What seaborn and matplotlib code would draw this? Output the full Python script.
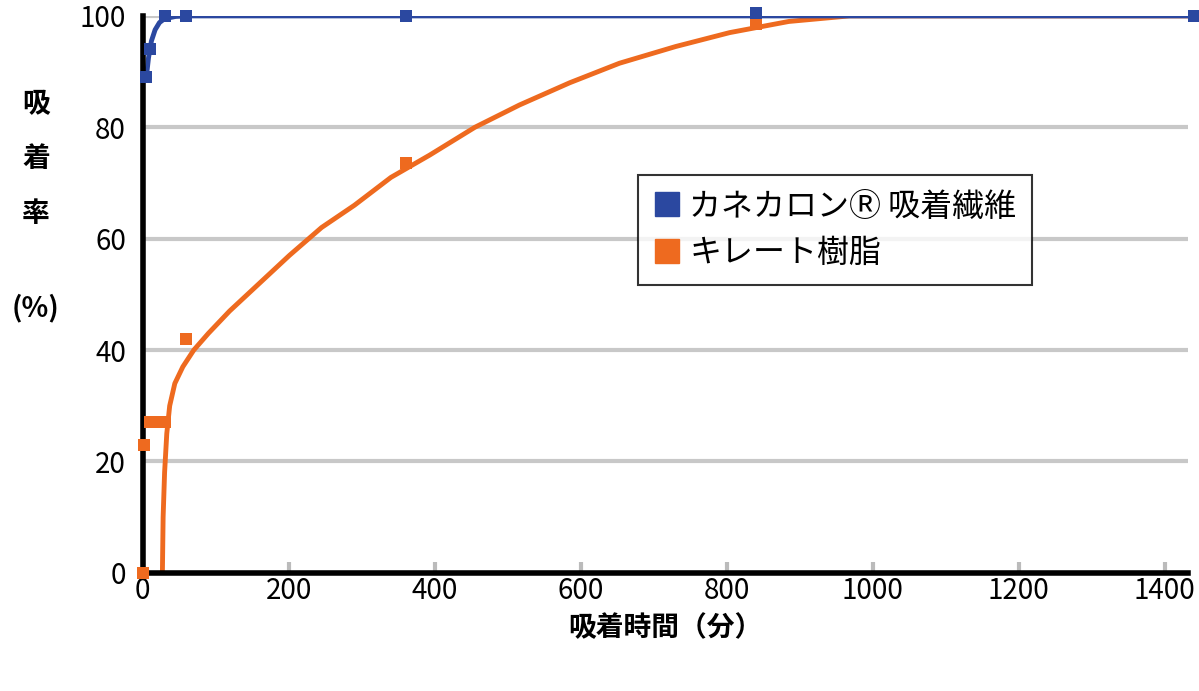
import matplotlib
matplotlib.use("Agg")
import matplotlib.pyplot as plt
import seaborn as sns
from matplotlib.lines import Line2D

fiber_t = [5, 10, 30, 60, 360, 840, 1440]
fiber_v = [89, 94, 100, 100, 100, 100.5, 100]
resin_t = [0, 2, 10, 20, 30, 60, 360, 840, 1440]
resin_v = [0, 23, 27, 27, 27, 42, 73.5, 98.5, 100]
# trend curves
curve_t = [27, 28, 30, 33, 37, 44, 55, 70, 90, 119, 160, 201, 245, 290, 340, 393, 455, 516, 585, 653, 730, 804, 885, 968, 1440]
curve_v = [0, 10, 18, 25, 30, 34, 37, 40, 43, 47, 52, 57, 62, 66, 71, 75, 80, 84, 88, 91.5, 94.5, 97, 99, 100, 100]
fiber_curve_t = [5, 8, 12, 17, 23, 30, 45, 60, 360, 840, 1440]
fiber_curve_v = [89, 92.5, 95.5, 97.5, 98.8, 99.5, 99.9, 100, 100, 100, 100]

BLUE = "#2b48a0"
ORANGE = "#ee6a1f"
plt.rcParams["font.family"] = "Noto Sans CJK JP"

fig = plt.figure(figsize=(11.99, 6.91), dpi=100)
ax = fig.add_axes([0.119, 0.171, 0.872, 0.806])
sns.lineplot(x=curve_t, y=curve_v, ax=ax, color=ORANGE, linewidth=3.5, sort=False, estimator=None)
sns.lineplot(x=fiber_curve_t, y=fiber_curve_v, ax=ax, color=BLUE, linewidth=3.5, sort=False, estimator=None)
ax.scatter(resin_t, resin_v, marker="s", s=80, color=ORANGE, zorder=5, clip_on=False, linewidths=0)
ax.scatter(fiber_t, fiber_v, marker="s", s=80, color=BLUE, zorder=6, clip_on=False, linewidths=0)

ax.set_xlim(0, 1432)
ax.set_ylim(0, 100)
ax.set_xticks(range(0, 1401, 200))
ax.set_yticks(range(0, 101, 20))
ax.tick_params(axis="x", direction="in", length=8, width=3, color="#bbbbbb", labelsize=20, pad=2)
ax.tick_params(axis="y", length=0, labelsize=20, pad=12)
ax.grid(axis="y", color="#c8c8c8", lw=3)
ax.set_axisbelow(True)
for s in ["top", "right"]:
    ax.spines[s].set_visible(False)
for s in ["left", "bottom"]:
    ax.spines[s].set_linewidth(4)
    ax.spines[s].set_color("black")
ax.set_xlabel("吸着時間（分）", fontsize=20, fontweight="bold", labelpad=6)
fig.text(0.03, 0.85, "吸", fontsize=20, fontweight="bold", ha="center", va="center")
fig.text(0.03, 0.77, "着", fontsize=20, fontweight="bold", ha="center", va="center")
fig.text(0.03, 0.69, "率", fontsize=20, fontweight="bold", ha="center", va="center")
fig.text(0.03, 0.555, "(%)", fontsize=20, fontweight="bold", ha="center", va="center")

h = [Line2D([], [], marker="s", ls="", color=BLUE, markersize=17),
     Line2D([], [], marker="s", ls="", color=ORANGE, markersize=17)]
leg = ax.legend(h, ["カネカロンⓇ 吸着繊維", "キレート樹脂"], loc="upper left",
                bbox_to_anchor=(0.474, 0.715), fontsize=23, frameon=True, fancybox=False,
                borderpad=0.5, handlelength=0.8, handletextpad=0.3, labelspacing=0.45,
                borderaxespad=0)
leg.get_frame().set_edgecolor("black")
leg.get_frame().set_linewidth(1.5)
fig.savefig("out.png", dpi=100)
